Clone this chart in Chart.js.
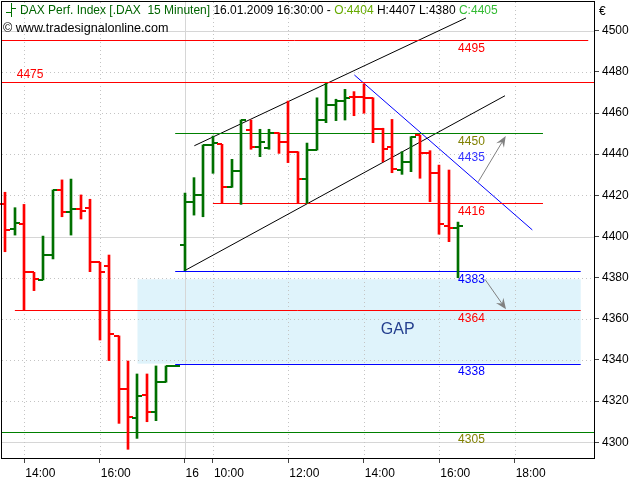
<!DOCTYPE html>
<html>
<head>
<meta charset="utf-8">
<script src="https://cdn.jsdelivr.net/npm/chart.js@4.4.1/dist/chart.umd.min.js"></script>
<style>
  body { margin: 0; background: #fff; }
  #wrap { width: 640px; height: 480px; }
</style>
</head>
<body>
<div id="wrap"><canvas id="chartDax" width="640" height="480"></canvas></div>
<script>
// DAX 15 minute bars, 15.01.2009 13:30 .. 16.01.2009 16:30
var opens  = [4416, 4403.5, 4406, 4382.6, 4379, 4390.9, 4422.6, 4411.8, 4413.4, 4413.7,
              4387.5, 4385.8, 4351.7, 4325.8, 4311.7, 4323.1, 4314.6, 4329.2, 4337.1,
              4395.7, 4416.6, 4420, 4444.5, 4444.8, 4423.9, 4431.8, 4451.7, 4443.3, 4442.9,
              4450.1, 4446.1, 4441.2, 4427.8, 4442, 4456.6, 4463.9, 4465.8, 4467.9, 4467.9,
              4467.2, 4452.1, 4443.3, 4432.3, 4436.3, 4449.3, 4440.7, 4430.7, 4405.2, 4404];
var highs  = [4421.5, 4414, 4415.6, 4382.6, 4400.2, 4422.6, 4427.5, 4427.9, 4420.2, 4418.1,
              4387.5, 4391, 4351.7, 4339.5, 4333.2, 4333.2, 4337.1, 4337.1, 4337.1,
              4421.1, 4428.6, 4444.5, 4448.8, 4444.8, 4437.5, 4456.6, 4456.6, 4452.1, 4452.1,
              4450.4, 4465.8, 4441.2, 4445.4, 4467.4, 4474.4, 4466.7, 4471.5, 4470.4, 4474.1,
              4467.4, 4452.6, 4456.9, 4441.2, 4448.5, 4449.3, 4441.7, 4434.7, 4432.3, 4407];
var lows   = [4392.6, 4400.7, 4364, 4373.7, 4378.9, 4389.1, 4409.6, 4400.7, 4408.5, 4382.9,
              4349.7, 4339.7, 4309.2, 4296.6, 4301.9, 4310, 4310.5, 4329.2, 4337.1,
              4383.4, 4410.4, 4409.6, 4430.7, 4416.1, 4423.9, 4415.6, 4442.4, 4438.8, 4442.4,
              4440.4, 4435.9, 4416.1, 4416.1, 4442, 4455.3, 4456.3, 4456.6, 4458.7, 4459.9,
              4445.6, 4436.3, 4431, 4430.2, 4431.5, 4428.3, 4416.9, 4401.1, 4397.5, 4380];
var closes = [4403, 4406.7, 4382.6, 4379.2, 4390.9, 4422.6, 4411.8, 4413.4, 4412.2, 4387.5,
              4382.6, 4352.5, 4325.8, 4312.1, 4322.6, 4314.6, 4329.2, 4337.1, 4337.1,
              4416.6, 4420, 4444.5, 4445.3, 4423.9, 4431.8, 4456.6, 4443.3, 4445.8, 4450.1,
              4446.1, 4441.2, 4427.8, 4442, 4456.6, 4463.9, 4465.8, 4467.4, 4467.6, 4467.2,
              4452.1, 4442.5, 4432.6, 4436.3, 4448.5, 4440.7, 4430.7, 4405.9, 4404, 4405];

var timeTicks  = [2, 10, 19, 22, 30, 38, 46, 54];
var timeLabels = ['14:00', '16:00', '16', '10:00', '12:00', '14:00', '16:00', '18:00'];
var priceTicks = [4300, 4320, 4340, 4360, 4380, 4400, 4420, 4440, 4460, 4480, 4500];

// support / resistance levels
var levels    = [4495, 4475, 4450, 4416, 4383, 4364, 4338, 4305];
var levelFrom = [-1, -1, 18, 22, 18, 1, 18, -1];
var levelTo   = [61.8, 63, 57, 57, 61, 61, 61, 63];
var levelTexts = ['4495', '4475', '4450', '4435', '4416', '4383', '4364', '4338', '4305'];
var levelTextValues = [4495, 4475, 4450, 4435, 4416, 4383, 4364, 4338, 4305];

// trend lines [x0, y0, x1, y1]
var upperChannel = [20.03, 4444.1, 48.84, 4506.2];
var lowerChannel = [19, 4383.4, 52.97, 4468.4];
var downTrend    = [37, 4478.5, 55.87, 4403.2];
var arrowUp      = [50.14, 4426.6, 53.05, 4448.8];
var arrowDown    = [50.85, 4379.2, 53.08, 4364.6];
var gapZone      = [14, 4379.2, 61, 4338.2];

var green = '#007000';
var red = '#ff0000';
var blue = '#0000ff';
var olive = '#808000';
var levelColors = [red, red, '#008000', red, blue, red, blue, '#008000'];
var textColors = [red, red, olive, '#3333ff', red, blue, red, blue, olive];

Chart.defaults.font.family = '"Liberation Sans", Arial, sans-serif';
Chart.defaults.font.size = 12;
Chart.defaults.color = '#000';

function seg(a) {
  return [{ x: a[0], y: a[1] }, { x: a[2], y: a[3] }];
}

function lineSet(points, color, isLevel) {
  return {
    type: 'line',
    data: points,
    borderColor: color,
    borderWidth: 1,
    pointRadius: 0,
    fill: false,
    order: 2,
    isLevel: !!isLevel
  };
}

var datasets = [{
  type: 'bar',
  data: highs.map(function (h, i) { return { x: i, y: [lows[i], h] }; }),
  backgroundColor: closes.map(function (c, i) { return c >= opens[i] ? green : red; }),
  barThickness: 2,
  borderWidth: 0,
  grouped: false,
  order: 0
}];

levels.forEach(function (v, i) {
  datasets.push(lineSet([{ x: levelFrom[i], y: v }, { x: levelTo[i], y: v }], levelColors[i], true));
});
datasets.push(lineSet(seg(upperChannel), '#000'));
datasets.push(lineSet(seg(lowerChannel), '#000'));
datasets.push(lineSet(seg(downTrend), blue));

function drawArrow(ctx, xs, ys, a) {
  var x0 = xs.getPixelForValue(a[0]), y0 = ys.getPixelForValue(a[1]);
  var x1 = xs.getPixelForValue(a[2]), y1 = ys.getPixelForValue(a[3]);
  var ang = Math.atan2(y1 - y0, x1 - x0);
  ctx.strokeStyle = '#808080';
  ctx.fillStyle = '#808080';
  ctx.lineWidth = 1;
  ctx.beginPath();
  ctx.moveTo(x0, y0);
  ctx.lineTo(x1 - 6 * Math.cos(ang), y1 - 6 * Math.sin(ang));
  ctx.stroke();
  ctx.beginPath();
  ctx.moveTo(x1, y1);
  ctx.lineTo(x1 - 11 * Math.cos(ang) + 4.5 * Math.sin(ang), y1 - 11 * Math.sin(ang) - 4.5 * Math.cos(ang));
  ctx.lineTo(x1 - 7 * Math.cos(ang), y1 - 7 * Math.sin(ang));
  ctx.lineTo(x1 - 11 * Math.cos(ang) - 4.5 * Math.sin(ang), y1 - 11 * Math.sin(ang) + 4.5 * Math.cos(ang));
  ctx.closePath();
  ctx.fill();
}

function noPadding(scale) {
  scale.paddingTop = 0;
  scale.paddingBottom = 0;
  scale.paddingLeft = 0;
  scale.paddingRight = 0;
}

var overlay = {
  id: 'overlay',
  beforeDatasetsDraw: function (chart) {
    var ctx = chart.ctx, xs = chart.scales.x, ys = chart.scales.y, area = chart.chartArea;
    // keep the thin bars and the level lines on whole pixels
    chart.getDatasetMeta(0).data.forEach(function (el) { el.x = Math.round(el.x); });
    chart.data.datasets.forEach(function (ds, k) {
      if (!ds.isLevel) return;
      chart.getDatasetMeta(k).data.forEach(function (p) { p.y = Math.floor(p.y) + 0.5; });
    });

    ctx.save();
    // gap zone
    var gx0 = xs.getPixelForValue(gapZone[0]), gx1 = xs.getPixelForValue(gapZone[2]);
    var gy0 = ys.getPixelForValue(gapZone[1]), gy1 = ys.getPixelForValue(gapZone[3]);
    ctx.fillStyle = '#dff3fb';
    ctx.fillRect(gx0, gy0, gx1 - gx0, gy1 - gy0);

    // grid
    ctx.lineWidth = 1;
    priceTicks.forEach(function (v) {
      var py = Math.round(ys.getPixelForValue(v)) + 0.5;
      var major = v % 100 === 0;
      ctx.strokeStyle = major ? '#d6d6d6' : '#c4c4c4';
      ctx.setLineDash(major ? [] : [1, 3]);
      ctx.beginPath();
      ctx.moveTo(area.left, py);
      ctx.lineTo(area.right, py);
      ctx.stroke();
    });
    timeTicks.forEach(function (t, i) {
      var px = Math.round(xs.getPixelForValue(t)) + 0.5;
      var dayStart = timeLabels[i] === '16';
      ctx.strokeStyle = dayStart ? '#d6d6d6' : '#c4c4c4';
      ctx.setLineDash(dayStart ? [] : [1, 3]);
      ctx.beginPath();
      ctx.moveTo(px, area.top);
      ctx.lineTo(px, area.bottom);
      ctx.stroke();
    });
    ctx.restore();
  },
  afterDatasetsDraw: function (chart) {
    var ctx = chart.ctx, xs = chart.scales.x, ys = chart.scales.y;
    ctx.save();
    // open / close ticks
    ctx.lineWidth = 2;
    for (var i = 0; i < opens.length; i++) {
      var px = Math.round(xs.getPixelForValue(i));
      var yo = Math.round(ys.getPixelForValue(opens[i]));
      var yc = Math.round(ys.getPixelForValue(closes[i]));
      ctx.strokeStyle = closes[i] >= opens[i] ? green : red;
      ctx.beginPath();
      ctx.moveTo(px - 5, yo);
      ctx.lineTo(px, yo);
      ctx.moveTo(px, yc);
      ctx.lineTo(px + 5, yc);
      ctx.stroke();
    }

    drawArrow(ctx, xs, ys, arrowUp);
    drawArrow(ctx, xs, ys, arrowDown);

    // level texts
    ctx.font = '12px "Liberation Sans", Arial, sans-serif';
    ctx.textAlign = 'left';
    levelTexts.forEach(function (t, k) {
      var py = ys.getPixelForValue(levelTextValues[k]);
      ctx.fillStyle = textColors[k];
      if (t === '4475' || t === '4435') {
        ctx.textBaseline = 'bottom';
        ctx.fillText(t, xs.getPixelForValue(t === '4475' ? 1.2 : 48), py - 1);
      } else {
        ctx.textBaseline = 'top';
        ctx.fillText(t, xs.getPixelForValue(48), py + 2);
      }
    });

    // GAP
    ctx.font = '16px "Liberation Sans", Arial, sans-serif';
    ctx.fillStyle = '#25408f';
    ctx.textAlign = 'center';
    ctx.textBaseline = 'middle';
    ctx.fillText('GAP', xs.getPixelForValue(41.6), ys.getPixelForValue(4354.6));
    ctx.restore();
  },
  afterDraw: function (chart) {
    var ctx = chart.ctx, area = chart.chartArea;
    ctx.save();
    // frame
    ctx.strokeStyle = '#000';
    ctx.lineWidth = 1;
    ctx.strokeRect(area.left - 0.5, area.top - 0.5, area.right - area.left + 1, area.bottom - area.top + 1);

    // header
    var last = opens.length - 1;
    ctx.font = '12px "Liberation Sans", Arial, sans-serif';
    ctx.textBaseline = 'middle';
    ctx.textAlign = 'left';
    ctx.strokeStyle = green;
    ctx.lineWidth = 1;
    ctx.beginPath();
    ctx.moveTo(11.5, 3); ctx.lineTo(11.5, 17);
    ctx.moveTo(6, 12.5); ctx.lineTo(11.5, 12.5);
    ctx.moveTo(11.5, 8.5); ctx.lineTo(16, 8.5);
    ctx.stroke();

    var parts = ['DAX Perf. Index [.DAX  15 Minuten] ', '16.01.2009 16:30:00 - ',
      'O:' + Math.round(opens[last]), ' H:' + Math.round(highs[last]) + ' L:' + Math.round(lows[last]) + ' ',
      'C:' + Math.round(closes[last])];
    var colors = ['#006400', '#000', '#66aa00', '#000', '#33bb33'];
    var tx = 20;
    parts.forEach(function (p, k) {
      ctx.fillStyle = colors[k];
      ctx.fillText(p, tx, 11);
      tx += ctx.measureText(p).width;
    });
    ctx.fillStyle = '#000';
    ctx.font = '12.6px "Liberation Sans", Arial, sans-serif';
    ctx.fillText('\u00a9 www.tradesignalonline.com', 3, 29);
    ctx.font = '12px "Liberation Sans", Arial, sans-serif';
    ctx.fillText('\u20ac', 599, 12);
    ctx.restore();
  }
};

new Chart(document.getElementById('chartDax'), {
  type: 'bar',
  data: { datasets: datasets },
  options: {
    responsive: false,
    animation: false,
    devicePixelRatio: 1,
    layout: { padding: { top: 2, left: 2, right: 0, bottom: 0 } },
    plugins: {
      legend: { display: false },
      tooltip: { enabled: false }
    },
    scales: {
      x: {
        type: 'linear',
        min: -0.365,
        max: 62.41,
        offset: false,
        grid: { offset: false, drawOnChartArea: false, drawTicks: true, tickLength: 5, color: '#444' },
        border: { display: false },
        afterBuildTicks: function (scale) {
          scale.ticks = timeTicks.map(function (v) { return { value: v }; });
        },
        afterFit: function (scale) { scale.height = 22; noPadding(scale); },
        ticks: {
          autoSkip: false,
          maxRotation: 0,
          minRotation: 0,
          align: 'start',
          labelOffset: 1,
          padding: 3,
          color: '#000',
          callback: function (value) {
            return timeLabels[timeTicks.indexOf(value)];
          }
        }
      },
      y: {
        type: 'linear',
        position: 'right',
        min: 4292.37,
        max: 4513.95,
        grid: { drawOnChartArea: false, drawTicks: true, tickLength: 5, color: '#444' },
        border: { display: false },
        afterBuildTicks: function (scale) {
          scale.ticks = priceTicks.map(function (v) { return { value: v }; });
        },
        afterFit: function (scale) { scale.width = 46; noPadding(scale); },
        ticks: {
          padding: 3,
          color: '#000',
          callback: function (value) { return String(value); }
        }
      }
    }
  },
  plugins: [overlay]
});
</script>
</body>
</html>
